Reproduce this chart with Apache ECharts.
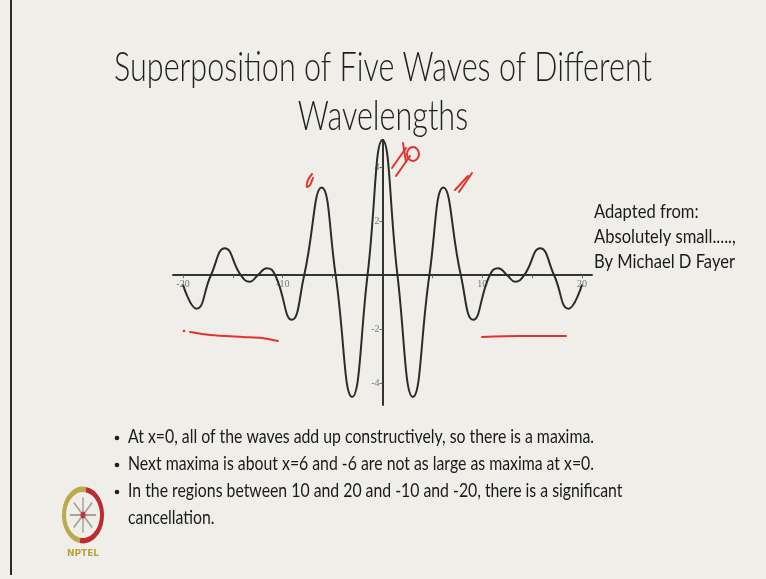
<!DOCTYPE html>
<html>
<head>
<meta charset="utf-8">
<script src="https://cdn.jsdelivr.net/npm/echarts@6/dist/echarts.min.js"></script>
<style>
  html, body { margin: 0; padding: 0; background: #f0eee9; }
  #chart { width: 766px; height: 579px; }
</style>
</head>
<body>
<div id="chart"></div>
<script>
// Sum of five waves: sample points along x (extrema and zero crossings)
const waveX = [-20, -18.65, -17.2, -15.8, -14.2, -13.3, -12.5, -11.6, -10.75, -9.1, -7.85, -6.1, -4.7, -3.05, -1.5, 0,
               1.5, 3.05, 4.7, 6.1, 7.85, 9.1, 10.75, 11.6, 12.5, 13.3, 14.2, 15.8, 17.2, 18.65, 20];
const waveY = [-0.35, -1.24, 0, 1.0, 0, -0.24, 0, 0.26, 0, -1.65, 0, 3.24, 0, -4.5, 0, 5,
               0, -4.5, 0, 3.24, 0, -1.65, 0, 0.26, 0, -0.24, 0, 1.0, 0, -1.24, -0.35];

// Axis ranges, ticks and labels
const xRange = [-21, 21];
const yRange = [-4.8, 5];
const xTicks = [-20, -15, -10, -5, 5, 10, 15, 20];
const xLabels = [-20, -10, 10, 20];
const yTicks = [-4, -2, 2, 4];
const yLabels = [-4, -2, 2, 4];

// Slide text
const titleLines = ['Superposition of Five Waves of Different', 'Wavelengths'];
const sourceLines = ['Adapted from:', 'Absolutely small.....,', 'By Michael D Fayer'];
const bulletLines = [
  'At x=0, all of the waves add up constructively, so there is a maxima.',
  'Next maxima is about x=6 and -6 are not as large as maxima at x=0.',
  'In the regions between 10 and 20 and -10 and -20, there is a significant'
];
const bulletContinuation = 'cancellation.';

const FONT = 'Lato, "Open Sans", sans-serif';
const measureCtx = document.createElement('canvas').getContext('2d');
function fitScale(text, font, targetWidth) {
  measureCtx.font = font;
  return targetWidth / measureCtx.measureText(text).width;
}

const chart = echarts.init(document.getElementById('chart'));
const graphics = [];

// left frame edge of the slide
graphics.push({
  type: 'line', shape: { x1: 11, y1: 0, x2: 11, y2: 575 },
  style: { stroke: '#2a2a2a', lineWidth: 2 }, z: 10
});

// title
const titleFont = '300 41px ' + FONT;
const titleScale = fitScale(titleLines[0], titleFont, 538);
titleLines.forEach(function (t, i) {
  graphics.push({
    type: 'text', x: 383, y: 68 + i * 49, scaleX: titleScale,
    style: { text: t, font: titleFont, fill: '#1f1f1f',
             textAlign: 'center', textVerticalAlign: 'middle' }
  });
});

// source note on the right
const srcFont = '19px ' + FONT;
const srcScale = fitScale(sourceLines[2], srcFont, 141);
sourceLines.forEach(function (t, i) {
  graphics.push({
    type: 'text', x: 594, y: 212 + i * 25, scaleX: srcScale,
    style: { text: t, font: srcFont, fill: '#1a1a1a',
             textAlign: 'left', textVerticalAlign: 'middle' }
  });
});

// bullet list
const bFont = '20px ' + FONT;
const bScale = fitScale(bulletLines[0], bFont, 466);
bulletLines.forEach(function (t, i) {
  const y = 437 + i * 27;
  graphics.push({
    type: 'circle', shape: { cx: 117, cy: y + 1, r: 2.3 }, style: { fill: '#1f1f1f' }
  });
  graphics.push({
    type: 'text', x: 128, y: y, scaleX: bScale,
    style: { text: t, font: bFont, fill: '#1a1a1a',
             textAlign: 'left', textVerticalAlign: 'middle' }
  });
});
graphics.push({
  type: 'text', x: 128, y: 437 + 3 * 27, scaleX: bScale,
  style: { text: bulletContinuation, font: bFont, fill: '#1a1a1a',
           textAlign: 'left', textVerticalAlign: 'middle' }
});

// red pen marks
const pen = { stroke: '#e2342c', lineWidth: 2, lineCap: 'round', lineJoin: 'round', fill: null };
const penStrokes = [
  [[312, 174], [308, 180], [307, 187], [310, 185], [313, 178]],
  [[392, 168], [406, 148]],
  [[396, 176], [410, 156]],
  [[403, 143], [406, 162]],
  [[455, 190], [468, 176]],
  [[459, 192], [472, 173]],
  [[190, 332], [210, 335], [243, 337], [262, 338], [278, 341]],
  [[482, 337], [520, 336], [566, 336]]
];
penStrokes.forEach(function (pts) {
  graphics.push({ type: 'polyline', shape: { points: pts, smooth: 0.3 }, style: pen, z: 20 });
});
graphics.push({ type: 'ellipse', shape: { cx: 413, cy: 154, rx: 6, ry: 7 }, style: pen, z: 20 });
graphics.push({ type: 'circle', shape: { cx: 184, cy: 331, r: 1.3 }, style: { fill: '#e2342c' }, z: 20 });

// NPTEL emblem
const spokes = [];
for (let k = 0; k < 8; k++) {
  const a = k * Math.PI / 4;
  spokes.push({
    type: 'line', shape: { x1: 0, y1: 0, x2: 13 * Math.cos(a), y2: 13 * Math.sin(a) },
    style: { stroke: '#a8a39a', lineWidth: 1.5 }
  });
}
graphics.push({
  type: 'group', x: 83, y: 515, scaleY: 1.35,
  children: [
    { type: 'arc', shape: { cx: 0, cy: 0, r: 19, startAngle: Math.PI * 0.55, endAngle: Math.PI * 1.55 },
      style: { stroke: '#bca94a', lineWidth: 4, fill: null } },
    { type: 'arc', shape: { cx: 0, cy: 0, r: 19, startAngle: -Math.PI * 0.45, endAngle: Math.PI * 0.55 },
      style: { stroke: '#bd2a30', lineWidth: 4, fill: null } }
  ].concat(spokes).concat([
    { type: 'circle', shape: { cx: 0, cy: 0, r: 2.5 }, style: { fill: '#c8323a' } }
  ])
});
graphics.push({
  type: 'text', x: 83, y: 554,
  style: { text: 'NPTEL', font: 'bold 9px "DejaVu Sans", sans-serif', fill: '#b9a23c',
           textAlign: 'center', textVerticalAlign: 'middle' }
});

// plot area; axes are shifted so they cross at the origin
const grid = { left: 173, top: 140, width: 419, height: 265 };
const xAxisShift = -grid.height * (0 - yRange[0]) / (yRange[1] - yRange[0]);
const yAxisShift = -grid.width * (0 - xRange[0]) / (xRange[1] - xRange[0]);
const axisLabelStyle = { fontFamily: '"Liberation Serif", serif', fontSize: 10, color: '#777' };

chart.setOption({
  backgroundColor: '#f0eee9',
  animation: false,
  grid: Object.assign({ containLabel: false }, grid),
  xAxis: {
    type: 'value', min: xRange[0], max: xRange[1], offset: xAxisShift,
    axisLine: { onZero: false, lineStyle: { color: '#333', width: 2 } },
    axisTick: { show: true, customValues: xTicks, length: 3, lineStyle: { color: '#666', width: 1 } },
    axisLabel: Object.assign({ customValues: xLabels, margin: 4 }, axisLabelStyle),
    splitLine: { show: false }
  },
  yAxis: {
    type: 'value', min: yRange[0], max: yRange[1], offset: yAxisShift,
    axisLine: { onZero: false, lineStyle: { color: '#333', width: 2 } },
    axisTick: { show: true, customValues: yTicks, length: 3, lineStyle: { color: '#666', width: 1 } },
    axisLabel: Object.assign({ customValues: yLabels, margin: 3 }, axisLabelStyle),
    splitLine: { show: false }
  },
  series: [{
    type: 'line',
    data: waveX.map(function (x, i) { return [x, waveY[i]]; }),
    showSymbol: false,
    smooth: 0.5,
    clip: false,
    lineStyle: { color: '#2b2b2b', width: 2 }
  }],
  graphic: graphics
});
</script>
</body>
</html>
